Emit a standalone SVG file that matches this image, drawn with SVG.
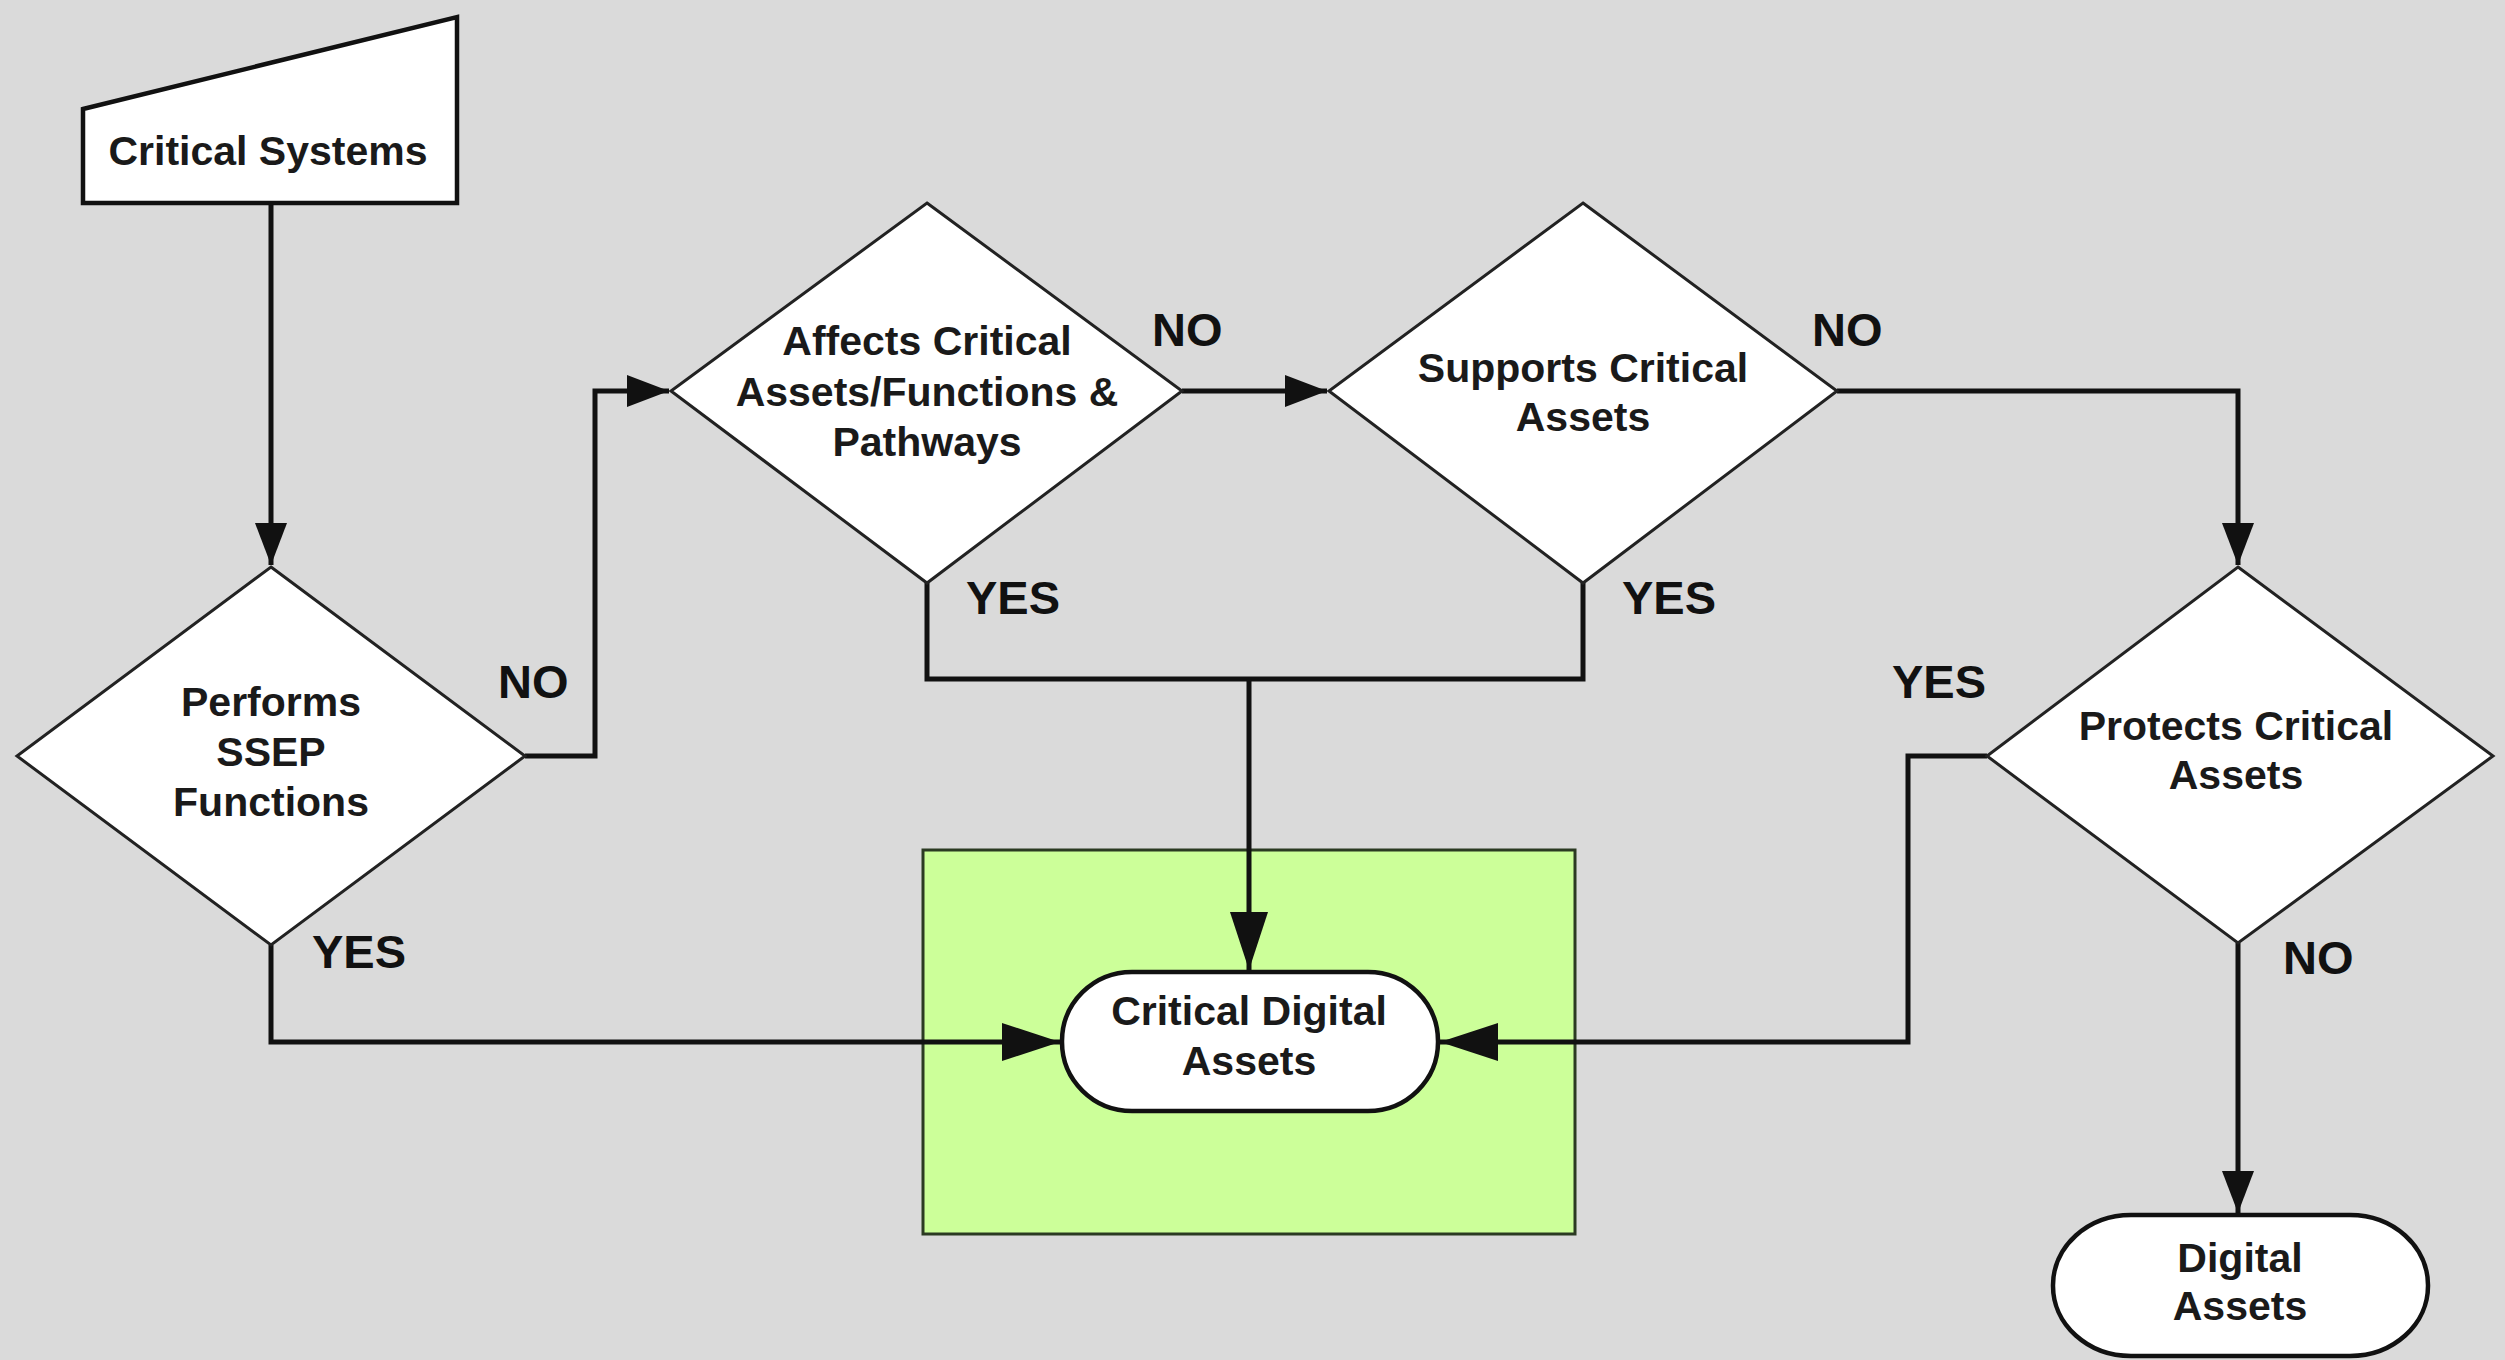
<svg xmlns="http://www.w3.org/2000/svg" width="2505" height="1360" viewBox="0 0 2505 1360">
  <defs>
    <style>
      .bg { fill: #dadada; }
      .box { fill: #ffffff; stroke: #111111; stroke-width: 4.5; }
      .dia { fill: #ffffff; stroke: #222222; stroke-width: 3; }
      .term { fill: #ffffff; stroke: #111111; stroke-width: 4.5; }
      .zone { fill: #ccff99; stroke: #2b3a22; stroke-width: 3; }
      .t { font-family: "Liberation Sans", Arial, sans-serif; font-weight: bold; font-size: 41px; fill: #1a1a1a; text-anchor: middle; }
      .lbl { font-family: "Liberation Sans", Arial, sans-serif; font-weight: bold; font-size: 47px; fill: #111111; }
      .wire { fill: none; stroke: #111111; stroke-width: 5; stroke-linejoin: miter; }
    </style>
    <marker id="arrow" markerUnits="userSpaceOnUse" markerWidth="42" markerHeight="32" refX="42" refY="16" orient="auto">
      <path d="M0,0 L42,16 L0,32 Z" fill="#111111"/>
    </marker>
    <marker id="arrowBig" markerUnits="userSpaceOnUse" markerWidth="58" markerHeight="38" refX="58" refY="19" orient="auto">
      <path d="M0,0 L58,19 L0,38 Z" fill="#111111"/>
    </marker>
  </defs>

  <rect class="bg" x="0" y="0" width="2505" height="1360"/>

  <!-- highlighted area around the critical digital assets terminal -->
  <rect id="cda-zone" class="zone" x="923" y="850" width="652" height="384"/>

  <!-- connectors -->
  <g id="connectors">
    <path class="wire" d="M271,204 L271,565" marker-end="url(#arrow)"/>
    <path class="wire" d="M525,756 L595,756 L595,391 L669,391" marker-end="url(#arrow)"/>
    <path class="wire" d="M1182,391 L1327,391" marker-end="url(#arrow)"/>
    <path class="wire" d="M1837,391 L2238,391 L2238,565" marker-end="url(#arrow)"/>
    <path class="wire" d="M271,945 L271,1042 L1060,1042" marker-end="url(#arrowBig)"/>
    <path class="wire" d="M927,583 L927,679 L1583,679 L1583,583"/>
    <path class="wire" d="M1249,679 L1249,970" marker-end="url(#arrowBig)"/>
    <path class="wire" d="M1987,756 L1908,756 L1908,1042 L1440,1042" marker-end="url(#arrowBig)"/>
    <path class="wire" d="M2238,943 L2238,1213" marker-end="url(#arrow)"/>
  </g>

  <!-- branch labels -->
  <g id="labels">
    <text class="lbl" x="498" y="698">NO</text>
    <text class="lbl" x="312" y="968">YES</text>
    <text class="lbl" x="1152" y="346">NO</text>
    <text class="lbl" x="966" y="614">YES</text>
    <text class="lbl" x="1812" y="346">NO</text>
    <text class="lbl" x="1622" y="614">YES</text>
    <text class="lbl" x="1892" y="698">YES</text>
    <text class="lbl" x="2283" y="974">NO</text>
  </g>

  <g id="critical-systems">
    <polygon class="box" points="83,109 457,17 457,203 83,203"/>
    <text class="t" x="268" y="165">Critical Systems</text>
  </g>

  <g id="performs-ssep">
    <polygon class="dia" points="271,567 525,756 271,945 17,756"/>
    <text class="t" x="271" y="716">Performs</text>
    <text class="t" x="271" y="766">SSEP</text>
    <text class="t" x="271" y="816">Functions</text>
  </g>

  <g id="affects-critical">
    <polygon class="dia" points="927,203 1182,391 927,583 671,391"/>
    <text class="t" x="927" y="355">Affects Critical</text>
    <text class="t" x="927" y="406">Assets/Functions &amp;</text>
    <text class="t" x="927" y="456">Pathways</text>
  </g>

  <g id="supports-critical">
    <polygon class="dia" points="1583,203 1837,391 1583,583 1329,391"/>
    <text class="t" x="1583" y="382">Supports Critical</text>
    <text class="t" x="1583" y="431">Assets</text>
  </g>

  <g id="protects-critical">
    <polygon class="dia" points="2238,567 2493,756 2238,943 1987,756"/>
    <text class="t" x="2236" y="740">Protects Critical</text>
    <text class="t" x="2236" y="789">Assets</text>
  </g>

  <g id="critical-digital-assets">
    <rect class="term" x="1062" y="972" width="376" height="139" rx="70" ry="69"/>
    <text class="t" x="1249" y="1025">Critical Digital</text>
    <text class="t" x="1249" y="1075">Assets</text>
  </g>

  <g id="digital-assets">
    <rect class="term" x="2053" y="1215" width="375" height="141" rx="78" ry="70"/>
    <text class="t" x="2240" y="1272">Digital</text>
    <text class="t" x="2240" y="1320">Assets</text>
  </g>
</svg>
